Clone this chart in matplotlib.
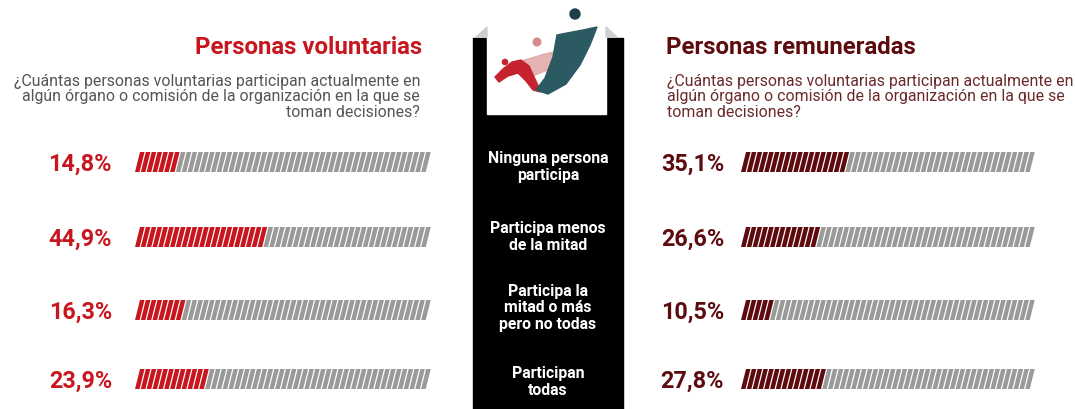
import matplotlib.pyplot as plt
from matplotlib.patches import Polygon, Rectangle, Circle
from matplotlib.collections import PolyCollection

plt.rcParams['font.family'] = ['Roboto', 'DejaVu Sans']

# data
categories = ['Ninguna persona\nparticipa', 'Participa menos\nde la mitad',
              'Participa la\nmitad o más\npero no todas', 'Participan\ntodas']
voluntarias = [14.8, 44.9, 16.3, 23.9]
remuneradas = [35.1, 26.6, 10.5, 27.8]
labels_vol = ['14,8%', '44,9%', '16,3%', '23,9%']
labels_rem = ['35,1%', '26,6%', '10,5%', '27,8%']

question = ('¿Cuántas personas voluntarias participan actualmente en\n'
            'algún órgano o comisión de la organización en la que se\n'
            'toman decisiones?')

RED = '#c8161f'
MAROON = '#5e0b10'
GRAY = '#9a9b99'
N_SEG = 50

fig = plt.figure(figsize=(10.75, 4.1), dpi=100)
ax = fig.add_axes([0, 0, 1, 1])
ax.set_xlim(0, 1075)
ax.set_ylim(410, 0)
ax.axis('off')

row_y = [163, 238, 311, 380]
cat_y = [167, 237, 308, 382]


def striped_bar(x0, x1, yc, value, color):
    h = 20
    skew = 5
    pitch = (x1 - x0 - skew) / N_SEG
    w = pitch * 0.78
    n_on = round(value / 100 * N_SEG)
    polys, cols = [], []
    for i in range(N_SEG):
        bx = x0 + i * pitch
        polys.append([(bx, yc + h / 2), (bx + w, yc + h / 2),
                      (bx + w + skew, yc - h / 2), (bx + skew, yc - h / 2)])
        cols.append(color if i < n_on else GRAY)
    ax.add_collection(PolyCollection(polys, facecolors=cols, edgecolors='none'))


# titles and questions
ax.text(422, 47, 'Personas voluntarias', color=RED, fontsize=17.3,
        fontweight='bold', ha='right', va='center')
ax.text(420, 97, question, color='#555555', fontsize=11.4, ha='right',
        va='center', linespacing=1.05, multialignment='right')
ax.text(666, 47, 'Personas remuneradas', color=MAROON, fontsize=17.3,
        fontweight='bold', ha='left', va='center')
ax.text(667, 97, question, color='#6a2a2c', fontsize=11.4, ha='left',
        va='center', linespacing=1.05)

# central black panel with logo area
ax.add_patch(Rectangle((473, 39), 150, 371, color='black', zorder=1))
ax.add_patch(Rectangle((487, 28), 119, 87, color='white', zorder=2))
ax.add_patch(Polygon([(476, 38), (487, 28), (487, 38)], color='#cfcfcf', zorder=2))
ax.add_patch(Polygon([(606, 28), (617, 38), (606, 38)], color='#cfcfcf', zorder=2))

# logo
ax.add_patch(Polygon([(518, 63), (545, 55), (568, 50), (566, 64), (545, 72), (530, 78)],
                     color='#e0a0a2', alpha=0.8, zorder=3))
ax.add_patch(Polygon([(495, 78), (503, 70), (512, 63), (521, 61), (529, 67), (535, 80),
                      (541, 93), (533, 91), (526, 82), (518, 74), (508, 77), (499, 83)],
                     color='#c5222e', zorder=4))
ax.add_patch(Polygon([(536, 91), (548, 95), (566, 85), (580, 66), (590, 46), (597, 28),
                      (583, 31), (567, 34), (557, 36), (553, 58), (545, 79)],
                     color='#2c5a63', zorder=5))
ax.add_patch(Circle((575, 15), 5, color='#1f3f4c', zorder=5))
ax.add_patch(Circle((537, 43), 3.8, color='#d78a8a', zorder=5))
ax.add_patch(Circle((505, 63), 2.6, color='#c5222e', zorder=5))

# category labels
for y, cat in zip(cat_y, categories):
    ax.text(548, y, cat, color='white', fontsize=11.3, fontweight='bold',
            ha='center', va='center', linespacing=1.1, zorder=6)

# bars and percentages
for y, v, lab in zip(row_y, voluntarias, labels_vol):
    striped_bar(135, 432, y, v, RED)
    ax.text(112, y + 1, lab, color=RED, fontsize=16.8, fontweight='bold',
            ha='right', va='center')

for y, v, lab in zip(row_y, remuneradas, labels_rem):
    striped_bar(741, 1036, y, v, MAROON)
    ax.text(724, y + 1, lab, color=MAROON, fontsize=16.8, fontweight='bold',
            ha='right', va='center')

fig.savefig('out.png', dpi=100, facecolor='white')
